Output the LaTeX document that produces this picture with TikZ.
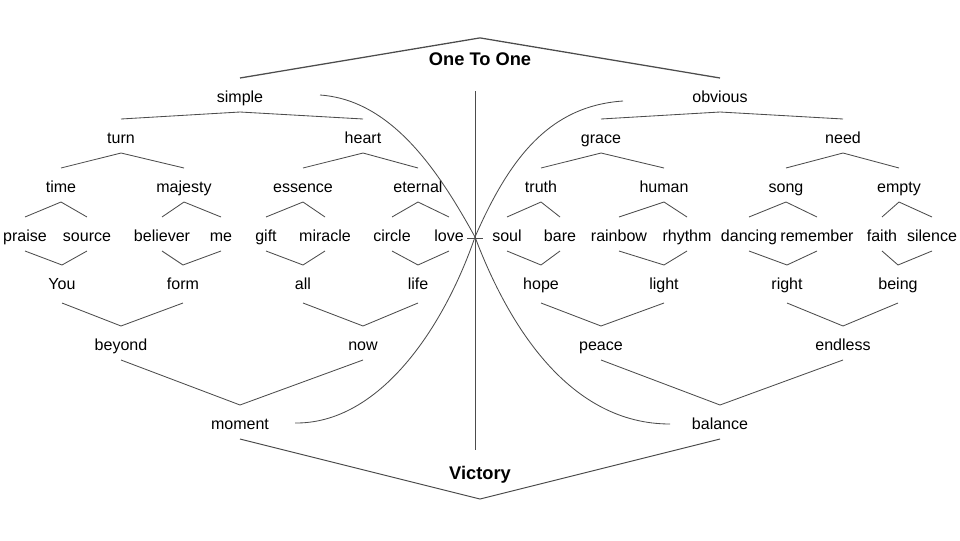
\documentclass[tikz,border=0pt]{standalone}
\usepackage{fontspec}
\setmainfont{Liberation Sans}

\begin{document}
\begin{tikzpicture}[x=0.025cm,y=-0.025cm,
    word/.style={font=\fontsize{11.4}{13}\selectfont, anchor=base, inner sep=0pt, outer sep=0pt, text height=0.6cm, text depth=0.25cm},
    low/.style={word, text depth=0.35cm},
    title/.style={word, font=\fontsize{13}{15}\selectfont\bfseries, text height=0.69cm, text depth=0.5cm},
    branch/.style={draw=black!70, line width=0.6pt}]
    \useasboundingbox (0,0) rectangle (960,540);
    % titles
    \draw (480,65.5) node[title] (onetoone) {One To One};
    \draw (480,479) node[title] (victory) {Victory};
    % upper tree
    \draw (240,102) node[word] (simple) {simple};
    \draw (720,102) node[word] (obvious) {obvious};
    \draw (121,143) node[word] (turn) {turn};
    \draw (363,143) node[word] (heart) {heart};
    \draw (601,143) node[word] (grace) {grace};
    \draw (843,143) node[word] (need) {need};
    \draw (61,192) node[word] (time) {time};
    \draw (184,192) node[word] (majesty) {majesty};
    \draw (303,192) node[word] (essence) {essence};
    \draw (418,192) node[word] (eternal) {eternal};
    \draw (541,192) node[word] (truth) {truth};
    \draw (664,192) node[word] (human) {human};
    \draw (786,192) node[word] (song) {song};
    \draw (899,192) node[word] (empty) {empty};
    % leaves
    \draw (25,241) node[word] (praise) {praise};
    \draw (87,241) node[word] (source) {source};
    \draw (162,241) node[word] (believer) {believer};
    \draw (221,241) node[word] (me) {me};
    \draw (266,241) node[word] (gift) {gift};
    \draw (325,241) node[word] (miracle) {miracle};
    \draw (392,241) node[word] (circle) {circle};
    \draw (449,241) node[word] (love) {love};
    \draw (507,241) node[word] (soul) {soul};
    \draw (560,241) node[word] (bare) {bare};
    \draw (619,241) node[word] (rainbow) {rainbow};
    \draw (687,241) node[word] (rhythm) {rhythm};
    \draw (749,241) node[word] (dancing) {dancing};
    \draw (817,241) node[word] (remember) {remember};
    \draw (882,241) node[word] (faith) {faith};
    \draw (932,241) node[word] (silence) {silence};
    % lower tree
    \draw (62,289) node[low] (you) {You};
    \draw (183,289) node[low] (form) {form};
    \draw (303,289) node[low] (all) {all};
    \draw (418,289) node[low] (life) {life};
    \draw (541,289) node[low] (hope) {hope};
    \draw (664,289) node[low] (light) {light};
    \draw (787,289) node[low] (right) {right};
    \draw (898,289) node[low] (being) {being};
    \draw (121,350) node[word] (beyond) {beyond};
    \draw (363,350) node[word] (now) {now};
    \draw (601,350) node[word] (peace) {peace};
    \draw (843,350) node[word] (endless) {endless};
    \draw (240,429) node[word] (moment) {moment};
    \draw (720,429) node[word] (balance) {balance};

    \draw[branch, line width=0.9pt] (simple.north) -- (onetoone.north) -- (obvious.north);
    \draw[branch] (turn.north) -- (simple.south) -- (heart.north);
    \draw[branch] (grace.north) -- (obvious.south) -- (need.north);
    \draw[branch] (time.north) -- (turn.south) -- (majesty.north);
    \draw[branch] (essence.north) -- (heart.south) -- (eternal.north);
    \draw[branch] (truth.north) -- (grace.south) -- (human.north);
    \draw[branch] (song.north) -- (need.south) -- (empty.north);
    \draw[branch] (praise.north) -- (time.south) -- (source.north);
    \draw[branch] (believer.north) -- (majesty.south) -- (me.north);
    \draw[branch] (gift.north) -- (essence.south) -- (miracle.north);
    \draw[branch] (circle.north) -- (eternal.south) -- (love.north);
    \draw[branch] (soul.north) -- (truth.south) -- (bare.north);
    \draw[branch] (rainbow.north) -- (human.south) -- (rhythm.north);
    \draw[branch] (dancing.north) -- (song.south) -- (remember.north);
    \draw[branch] (faith.north) -- (empty.south) -- (silence.north);
    \draw[branch] (praise.south) -- (you.north) -- (source.south);
    \draw[branch] (believer.south) -- (form.north) -- (me.south);
    \draw[branch] (gift.south) -- (all.north) -- (miracle.south);
    \draw[branch] (circle.south) -- (life.north) -- (love.south);
    \draw[branch] (soul.south) -- (hope.north) -- (bare.south);
    \draw[branch] (rainbow.south) -- (light.north) -- (rhythm.south);
    \draw[branch] (dancing.south) -- (right.north) -- (remember.south);
    \draw[branch] (faith.south) -- (being.north) -- (silence.south);
    \draw[branch] (you.south) -- (beyond.north) -- (form.south);
    \draw[branch] (all.south) -- (now.north) -- (life.south);
    \draw[branch] (hope.south) -- (peace.north) -- (light.south);
    \draw[branch] (right.south) -- (endless.north) -- (being.south);
    \draw[branch] (beyond.south) -- (moment.north) -- (now.south);
    \draw[branch] (peace.south) -- (balance.north) -- (endless.south);
    \draw[branch, line width=0.7pt] (moment.south) -- (victory.south) -- (balance.south);

    % axis and crossing curves
    \coordinate (axistop) at (475,91);
    \coordinate (axisbot) at (475,450);
    \coordinate (cross) at (475,237);
    \coordinate (tickl) at (467,238);
    \coordinate (tickr) at (483,238);
    \coordinate (simpleend) at (320,95);
    \coordinate (obviousend) at (623,101);
    \coordinate (momentend) at (295,423);
    \coordinate (balanceend) at (670,424);
    \draw[branch] (axistop) -- (axisbot);
    \draw[branch] (tickl) -- (tickr);
    \draw[branch] (simpleend) .. controls (390,100) and (436.5,167) .. (cross) .. controls (509,327) and (570,424) .. (balanceend);
    \draw[branch] (obviousend) .. controls (550,106) and (510,157) .. (cross) .. controls (444,327) and (380,424) .. (momentend);
  \end{tikzpicture}
\end{document}
